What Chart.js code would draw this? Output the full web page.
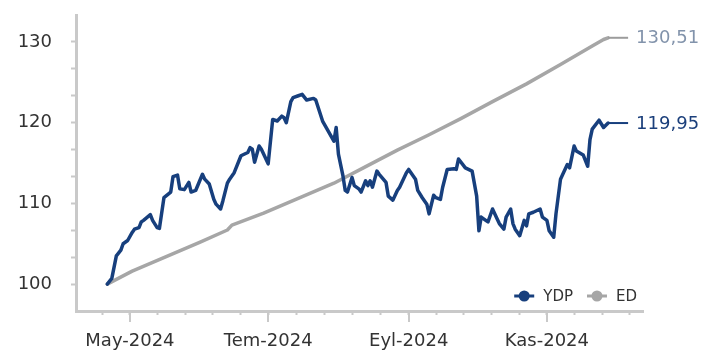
<!DOCTYPE html>
<html>
<head>
<meta charset="utf-8">
<script src="https://cdn.jsdelivr.net/npm/chart.js@4.4.1/dist/chart.umd.min.js"></script>
<style>
  html, body { margin: 0; padding: 0; background: #fff; }
  #wrap { width: 714px; height: 354px; }
</style>
</head>
<body>
<div id="wrap"><canvas id="chart" width="714" height="354"></canvas></div>
<script>
/* global Chart */

// tarih ekseni etiketleri
const tickDates = ['2024-05-01', '2024-07-01', '2024-09-01', '2024-11-01'];
const tickLabels = ['May-2024', 'Tem-2024', 'Eyl-2024', 'Kas-2024'];

// YDP serisi
const ydpDates = [
  '2024-04-21', '2024-04-23', '2024-04-25', '2024-04-27', '2024-04-28', '2024-04-30',
  '2024-05-02', '2024-05-03', '2024-05-05', '2024-05-06', '2024-05-07', '2024-05-10',
  '2024-05-11', '2024-05-13', '2024-05-14', '2024-05-16', '2024-05-19', '2024-05-20',
  '2024-05-22', '2024-05-23', '2024-05-25', '2024-05-27', '2024-05-28', '2024-05-30',
  '2024-06-02', '2024-06-03', '2024-06-05', '2024-06-07', '2024-06-08', '2024-06-10',
  '2024-06-11', '2024-06-13', '2024-06-14', '2024-06-16', '2024-06-19', '2024-06-22',
  '2024-06-23', '2024-06-24', '2024-06-25', '2024-06-27', '2024-06-28', '2024-07-01',
  '2024-07-03', '2024-07-05', '2024-07-07', '2024-07-08', '2024-07-09', '2024-07-11',
  '2024-07-12', '2024-07-14', '2024-07-16', '2024-07-18', '2024-07-21', '2024-07-22',
  '2024-07-25', '2024-07-27', '2024-07-30', '2024-07-31', '2024-08-01', '2024-08-03',
  '2024-08-04', '2024-08-05', '2024-08-07', '2024-08-08', '2024-08-10', '2024-08-11',
  '2024-08-13', '2024-08-14', '2024-08-15', '2024-08-16', '2024-08-18', '2024-08-19',
  '2024-08-22', '2024-08-23', '2024-08-25', '2024-08-27', '2024-08-28', '2024-08-31',
  '2024-09-01', '2024-09-04', '2024-09-05', '2024-09-07', '2024-09-09', '2024-09-10',
  '2024-09-12', '2024-09-13', '2024-09-15', '2024-09-16', '2024-09-18', '2024-09-21',
  '2024-09-22', '2024-09-23', '2024-09-26', '2024-09-29', '2024-10-01', '2024-10-02',
  '2024-10-03', '2024-10-05', '2024-10-06', '2024-10-08', '2024-10-10', '2024-10-11',
  '2024-10-13', '2024-10-14', '2024-10-16', '2024-10-17', '2024-10-18', '2024-10-20',
  '2024-10-22', '2024-10-23', '2024-10-24', '2024-10-26', '2024-10-29', '2024-10-30',
  '2024-11-01', '2024-11-02', '2024-11-04', '2024-11-05', '2024-11-07', '2024-11-08',
  '2024-11-10', '2024-11-11', '2024-11-13', '2024-11-14', '2024-11-17', '2024-11-19',
  '2024-11-20', '2024-11-21', '2024-11-24', '2024-11-26', '2024-11-28'
];
const ydpValues = [
  100.0, 100.7, 103.5, 104.2, 105.0, 105.4,
  106.4, 106.8, 107.0, 107.7, 107.9, 108.6,
  107.9, 107.0, 106.9, 110.7, 111.4, 113.3,
  113.5, 111.8, 111.7, 112.6, 111.4, 111.6,
  113.6, 113.0, 112.4, 110.5, 109.9, 109.3,
  110.3, 112.5, 113.0, 113.8, 115.9, 116.3,
  116.9, 116.7, 115.1, 117.1, 116.7, 114.9,
  120.4, 120.2, 120.8, 120.6, 120.0, 122.6,
  123.1, 123.3, 123.5, 122.8, 123.0, 122.8,
  120.2, 119.2, 117.7, 119.4, 116.1, 113.4,
  111.6, 111.4, 113.2, 112.2, 111.8, 111.4,
  112.8, 112.2, 112.8, 112.0, 114.0, 113.6,
  112.6, 110.9, 110.4, 111.6, 112.0, 113.8,
  114.2, 113.0, 111.6, 110.7, 109.9, 108.7,
  111.0, 110.7, 110.5, 112.0, 114.2, 114.3,
  114.2, 115.5, 114.4, 114.0, 110.9, 106.6,
  108.3, 107.9, 107.7, 109.3, 108.1, 107.5,
  106.8, 108.3, 109.3, 107.5, 106.8, 106.0,
  107.9, 107.2, 108.7, 108.9, 109.3, 108.3,
  107.9, 106.6, 105.8, 108.7, 113.0, 113.6,
  114.8, 114.4, 117.1, 116.5, 116.0, 114.6,
  117.9, 119.2, 120.3, 119.4, 119.95
];

// ED serisi
const edDates = [
  '2024-04-21', '2024-05-02', '2024-05-17', '2024-06-01', '2024-06-13', '2024-06-15',
  '2024-06-29', '2024-07-14', '2024-07-30', '2024-08-12', '2024-08-27', '2024-09-10',
  '2024-09-24', '2024-10-08', '2024-10-23', '2024-11-07', '2024-11-21', '2024-11-26',
  '2024-11-28'
];
const edValues = [
  100.0, 101.6, 103.4, 105.2, 106.7, 107.3,
  108.8, 110.6, 112.5, 114.4, 116.6, 118.5,
  120.5, 122.6, 124.8, 127.2, 129.5, 130.3,
  130.51
];

const seriesNames = ['YDP', 'ED'];

const axisColor = '#c9c9c9';
const textColor = '#333333';
const blue = '#173f7d';
const grey = '#a6a6a6';

Chart.defaults.font.family = '"DejaVu Sans", Verdana, sans-serif';

// 1 Nisan 2024'ten itibaren gun sayisi
function dayNum(s) {
    const p = s.split('-');
    return (Date.UTC(+p[0], +p[1] - 1, +p[2]) - Date.UTC(2024, 3, 1)) / 86400000;
}

function toPoints(dates, values) {
    return dates.map((d, i) => ({ x: dayNum(d), y: values[i] }));
}

// x ekseni: ana tikler + her aralikta 5 parca
const majorDays = tickDates.map(dayNum);
function buildXTicks() {
    const out = [];
    const firstGap = (majorDays[1] - majorDays[0]) / 5;
    out.push(majorDays[0] - firstGap);
    for (let i = 0; i < majorDays.length - 1; i++) {
        const step = (majorDays[i + 1] - majorDays[i]) / 5;
        for (let k = 0; k < 5; k++) out.push(majorDays[i] + k * step);
    }
    const last = majorDays[majorDays.length - 1];
    const lastGap = (last - majorDays[majorDays.length - 2]) / 5;
    for (let k = 0; k < 4; k++) out.push(last + k * lastGap);
    return out;
}

function buildYTicks() {
    const out = [];
    for (let v = 100; v <= 130.01; v += 10 / 3) out.push(v);
    return out;
}

// ana x tiklerini uzat
const longTicks = {
    id: 'longTicks',
    afterDraw(chart) {
        const ctx = chart.ctx;
        const sx = chart.scales.x;
        const b = chart.chartArea.bottom;
        ctx.save();
        ctx.strokeStyle = axisColor;
        ctx.lineWidth = 2;
        majorDays.forEach(d => {
            const px = Math.round(sx.getPixelForValue(d));
            ctx.beginPath();
            ctx.moveTo(px, b);
            ctx.lineTo(px, b + 11);
            ctx.stroke();
        });
        ctx.restore();
    }
};

// son deger etiketleri
const endLabels = {
    id: 'endLabels',
    afterDatasetsDraw(chart) {
        const ctx = chart.ctx;
        ctx.save();
        chart.data.datasets.forEach((ds, i) => {
            const meta = chart.getDatasetMeta(i);
            const pt = meta.data[meta.data.length - 1];
            const val = ds.data[ds.data.length - 1].y;
            ctx.strokeStyle = ds.leaderColor;
            ctx.lineWidth = 2;
            ctx.beginPath();
            ctx.moveTo(pt.x, pt.y);
            ctx.lineTo(pt.x + 20, pt.y);
            ctx.stroke();
            ctx.font = '18px "DejaVu Sans"';
            ctx.fillStyle = ds.labelColor;
            ctx.textAlign = 'left';
            ctx.textBaseline = 'middle';
            ctx.fillText(val.toFixed(2).replace('.', ','), pt.x + 28, pt.y + 1);
        });
        ctx.restore();
    }
};

// grafik icindeki lejant (sag alt)
const innerLegend = {
    id: 'innerLegend',
    afterDraw(chart) {
        const ctx = chart.ctx;
        const area = chart.chartArea;
        ctx.save();
        ctx.font = '15px "DejaVu Sans"';
        ctx.textBaseline = 'middle';
        ctx.textAlign = 'left';
        let x = area.right - 6;
        const y = area.bottom - 15;
        for (let i = chart.data.datasets.length - 1; i >= 0; i--) {
            const ds = chart.data.datasets[i];
            const w = ctx.measureText(ds.label).width;
            x -= w;
            ctx.fillStyle = textColor;
            ctx.fillText(ds.label, x, y + 1);
            x -= 9;
            ctx.strokeStyle = ds.borderColor;
            ctx.fillStyle = ds.borderColor;
            ctx.lineWidth = 3;
            ctx.beginPath();
            ctx.moveTo(x - 20, y);
            ctx.lineTo(x, y);
            ctx.stroke();
            ctx.beginPath();
            ctx.arc(x - 10, y, 5.5, 0, Math.PI * 2);
            ctx.fill();
            x -= 20 + 14;
        }
        ctx.restore();
    }
};

const ctx = document.getElementById('chart').getContext('2d');
const myChart = new Chart(ctx, {
    type: 'line',
    data: {
        datasets: [
            {
                label: seriesNames[0],
                data: toPoints(ydpDates, ydpValues),
                borderColor: blue,
                backgroundColor: blue,
                borderWidth: 3.5,
                pointRadius: 0,
                tension: 0,
                borderJoinStyle: 'round',
                borderCapStyle: 'round',
                leaderColor: blue,
                labelColor: '#1b3f7b'
            },
            {
                label: seriesNames[1],
                data: toPoints(edDates, edValues),
                borderColor: grey,
                backgroundColor: grey,
                borderWidth: 3.5,
                pointRadius: 0,
                tension: 0,
                borderJoinStyle: 'round',
                borderCapStyle: 'round',
                leaderColor: '#9c9c9c',
                labelColor: '#8293ab'
            }
        ]
    },
    options: {
        responsive: false,
        devicePixelRatio: 1,
        animation: false,
        layout: { padding: { top: 15, right: 71, bottom: 0, left: 0 } },
        plugins: {
            legend: { display: false },
            tooltip: { enabled: false }
        },
        scales: {
            x: {
                type: 'linear',
                min: 6.2,
                max: 256.4,
                afterBuildTicks: s => { s.ticks = buildXTicks().map(v => ({ value: v })); },
                afterFit: s => { s.height = 43; s.paddingLeft = 0; s.paddingRight = 0; },
                grid: { drawOnChartArea: false, drawTicks: true, tickLength: 4, tickColor: axisColor, tickWidth: 2 },
                border: { display: true, color: axisColor, width: 3 },
                ticks: {
                    autoSkip: false,
                    maxRotation: 0,
                    padding: 16,
                    color: textColor,
                    font: { size: 18 },
                    callback: v => {
                        const i = majorDays.findIndex(d => Math.abs(d - v) < 0.01);
                        return i >= 0 ? tickLabels[i] : '';
                    }
                }
            },
            y: {
                min: 100 - 10 / 3,
                max: 130 + 10 / 3,
                afterBuildTicks: s => { s.ticks = buildYTicks().map(v => ({ value: v })); },
                afterFit: s => { s.width = 76; s.paddingTop = 0; s.paddingBottom = 0; },
                grid: { drawOnChartArea: false, drawTicks: true, tickLength: 5, tickColor: axisColor, tickWidth: 2 },
                border: { display: true, color: axisColor, width: 3 },
                ticks: {
                    autoSkip: false,
                    padding: 19,
                    color: textColor,
                    font: { size: 18 },
                    callback: v => {
                        const r = Math.round(v / 10) * 10;
                        return Math.abs(v - r) < 0.01 ? String(r) : '';
                    }
                }
            }
        }
    },
    plugins: [longTicks, endLabels, innerLegend]
});
</script>
</body>
</html>
